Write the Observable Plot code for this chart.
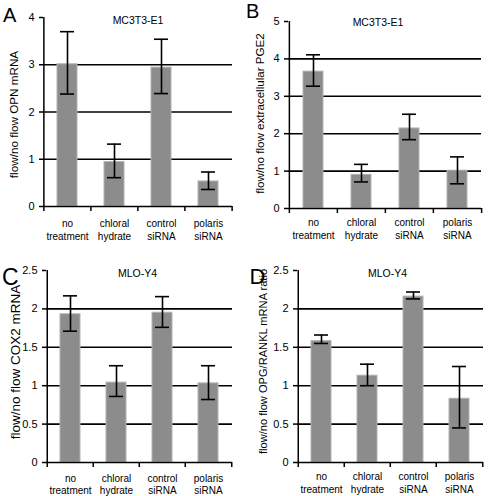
<!DOCTYPE html>
<html><head><meta charset="utf-8">
<script src="https://cdn.jsdelivr.net/npm/d3@7"></script>
<script src="https://cdn.jsdelivr.net/npm/@observablehq/plot@0.6"></script>
<style>
body{margin:0;background:#fff;}
#root{position:relative;width:488px;height:496px;overflow:hidden;background:#fff;}
.cell{position:absolute;width:244px;height:248px;}
</style></head><body><div id="root"></div>
<script>
// ---- data ----
const categories = ["no treatment", "chloral hydrate", "control siRNA", "polaris siRNA"];
const categoryLabels = ["no\ntreatment", "chloral\nhydrate", "control\nsiRNA", "polaris\nsiRNA"];
const panelLetters = ["A", "B", "C", "D"];
const panelTitles = ["MC3T3-E1", "MC3T3-E1", "MLO-Y4", "MLO-Y4"];
const yLabels = ["flow/no flow OPN mRNA", "flow/no flow extracellular PGE2", "flow/no flow COX2 mRNA", "flow/no flow OPG/RANKL mRNA ratio"];

const ticksA = [0, 1, 2, 3, 4];
const valuesA = [3.01, 0.94, 2.94, 0.53];
const lowA = [2.38, 0.61, 2.39, 0.36];
const highA = [3.70, 1.32, 3.54, 0.73];

const ticksB = [0, 1, 2, 3, 4, 5];
const valuesB = [3.66, 0.90, 2.14, 1.01];
const lowB = [3.27, 0.71, 1.84, 0.66];
const highB = [4.11, 1.18, 2.52, 1.38];

const ticksC = [0, 0.5, 1, 1.5, 2, 2.5];
const valuesC = [1.93, 1.04, 1.95, 1.03];
const lowC = [1.71, 0.86, 1.76, 0.82];
const highC = [2.17, 1.26, 2.16, 1.26];

const ticksD = [0, 0.5, 1, 1.5, 2, 2.5];
const valuesD = [1.58, 1.13, 2.16, 0.83];
const lowD = [1.55, 1.00, 2.13, 0.45];
const highD = [1.66, 1.28, 2.22, 1.25];

// ---- layout (not data) ----
const FONT = "'Liberation Sans', Arial, Helvetica, sans-serif";
const BAR_W = 20;
const layouts = [
  {left: 0,   top: 0,   ml: 43, mr: 12, mt: 17, mb: 42, xpad: 12,   tdx: 0,  tdy: 3, ydx: -29.5, ydy: 2.5,  ylf: 11.7, lx: 2.5, lb: 21,   lf: 20},
  {left: 244, top: 0,   ml: 44, mr: 7,  mt: 21, mb: 40, xpad: 9,    tdx: -7, tdy: 1, ydx: -28,   ydy: -1.5, ylf: 11.6, lx: 1.5, lb: 17.5, lf: 20},
  {left: 0,   top: 248, ml: 46, mr: 12, mt: 22, mb: 34, xpad: 10.5, tdx: -2, tdy: 3, ydx: -30.5, ydy: -4.5, ylf: 13.5, lx: 1.5, lb: 36,   lf: 23},
  {left: 244, top: 248, ml: 53, mr: 5,  mt: 22, mb: 34, xpad: 9,    tdx: -3, tdy: 3, ydx: -34,   ydy: -5,   ylf: 11.1, lx: 5,   lb: 35,   lf: 22}
];
const panels = [
  {ticks: ticksA, values: valuesA, low: lowA, high: highA},
  {ticks: ticksB, values: valuesB, low: lowB, high: highB},
  {ticks: ticksC, values: valuesC, low: lowC, high: highC},
  {ticks: ticksD, values: valuesD, low: lowD, high: highD}
];

function makePanel(k) {
  const P = panels[k], L = layouts[k];
  const data = categories.map((c, i) => ({cat: c, v: P.values[i], lo: P.low[i], hi: P.high[i]}));
  const innerW = 244 - L.ml - L.mr;
  const step = innerW / categories.length;
  const p = 1 - BAR_W / step;
  const top = P.ticks[P.ticks.length - 1];
  const sw = 1.6;
  return Plot.plot({
    width: 244, height: 248,
    marginLeft: L.ml, marginRight: L.mr, marginTop: L.mt, marginBottom: L.mb,
    style: {fontFamily: FONT, fontSize: "10px", background: "white", color: "black", overflow: "visible"},
    x: {type: "band", domain: categories, paddingInner: p, paddingOuter: p / 2, axis: null},
    y: {domain: [0, top], axis: null},
    marks: [
      Plot.ruleY(P.ticks.slice(1, -1), {stroke: "black", strokeWidth: sw}),
      Plot.barY(data, {x: "cat", y: "v", fill: "#8c8c8c", stroke: "#b2b2b2", strokeWidth: 1}),
      Plot.ruleX(data, {x: "cat", y1: "lo", y2: "hi", stroke: "black", strokeWidth: sw}),
      Plot.tickY(data, {x: "cat", y: "lo", inset: 3, stroke: "black", strokeWidth: sw}),
      Plot.tickY(data, {x: "cat", y: "hi", inset: 3, stroke: "black", strokeWidth: sw}),
      Plot.axisY({ticks: P.ticks, tickSize: 4, tickPadding: 5, tickFormat: d => String(d), label: null, strokeWidth: 1.5, fontSize: 11}),
      // y axis line (extends a little below zero like the reference)
      Plot.ruleX([categories[0]], {x: d => d, y1: top, y2: 0, insetBottom: -5, dx: -step / 2, stroke: "black", strokeWidth: 1.5}),
      Plot.ruleY([0], {stroke: "black", strokeWidth: 1.5}),
      // category boundary ticks
      Plot.ruleX(categories.slice(1), {x: d => d, y1: 0, y2: 0, insetBottom: -5, dx: -step / 2, stroke: "black", strokeWidth: 1.5}),
      Plot.ruleX([categories[categories.length - 1]], {x: d => d, y1: 0, y2: 0, insetBottom: -5, dx: step / 2, stroke: "black", strokeWidth: 1.5}),
      Plot.axisX({tickSize: 0, tickPadding: L.xpad, tickFormat: d => categoryLabels[categories.indexOf(d)], lineHeight: 1.25, label: null, fontSize: 10}),
      Plot.text([panelTitles[k]], {text: d => d, frameAnchor: "top", lineAnchor: "middle", dx: L.tdx, dy: L.tdy, fontSize: 10.5}),
      Plot.text([yLabels[k]], {text: d => d, frameAnchor: "left", textAnchor: "middle", lineAnchor: "middle", rotate: -90, dx: L.ydx, dy: L.ydy, fontSize: L.ylf}),
      Plot.text([panelLetters[k]], {text: d => d, frameAnchor: "top-left", textAnchor: "start", lineAnchor: "bottom", dx: L.lx - L.ml, dy: L.lb - L.mt, fontSize: L.lf})
    ]
  });
}

const root = document.getElementById("root");
for (let k = 0; k < 4; k++) {
  const div = document.createElement("div");
  div.className = "cell";
  div.style.left = layouts[k].left + "px";
  div.style.top = layouts[k].top + "px";
  div.appendChild(makePanel(k));
  root.appendChild(div);
}
</script>
</body></html>
